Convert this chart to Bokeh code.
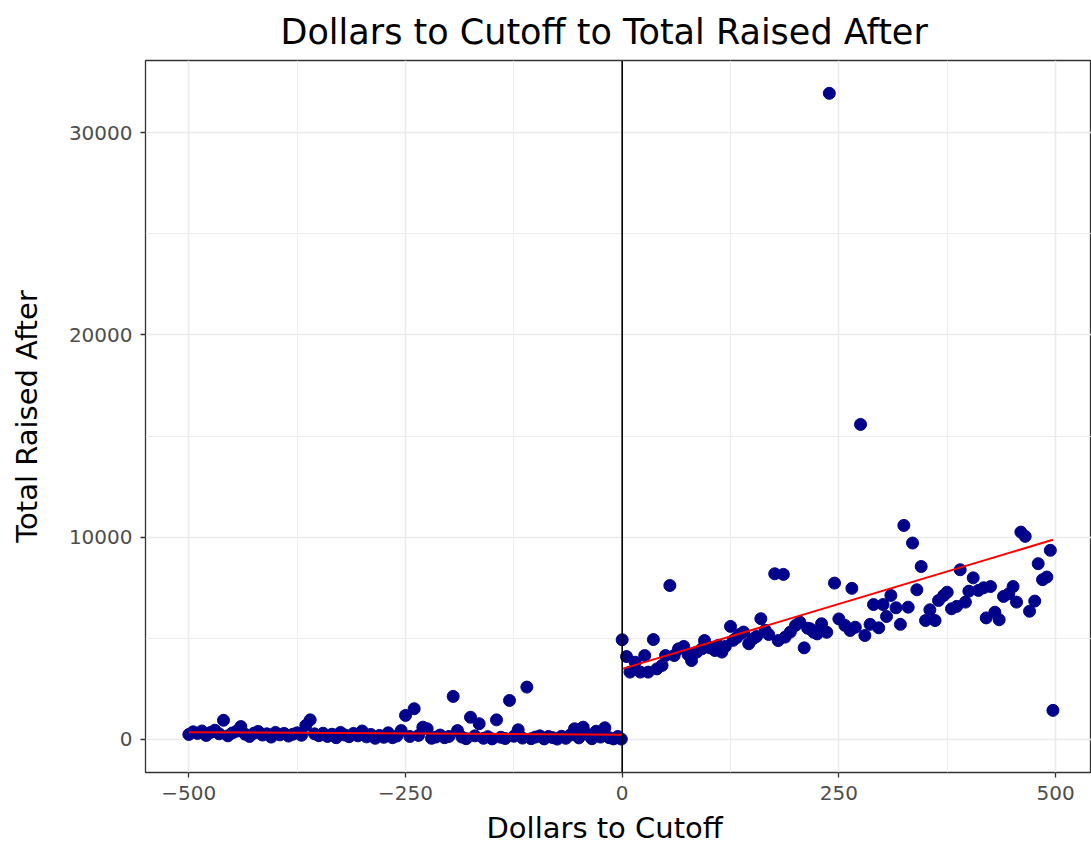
import numpy as np
from bokeh.plotting import figure
from bokeh.models import Range1d, FixedTicker, Span, Title, ColumnDataSource
from bokeh.embed import file_html
from bokeh.resources import INLINE

# Binned donations: dollars relative to the cutoff vs. total raised afterwards
left_x = [-500, -495, -490, -485, -480, -475, -470, -465, -460, -455,
          -450, -445, -440, -435, -430, -425, -420, -415, -410, -405,
          -400, -395, -390, -385, -380, -375, -370, -365, -360, -355,
          -350, -345, -340, -335, -330, -325, -320, -315, -310, -305,
          -300, -295, -290, -285, -280, -275, -270, -265, -260, -255,
          -250, -245, -240, -235, -230, -225, -220, -215, -210, -205,
          -200, -195, -190, -185, -180, -175, -170, -165, -160, -155,
          -150, -145, -140, -135, -130, -125, -120, -115, -110, -105,
          -100, -95, -90, -85, -80, -75, -70, -65, -60, -55,
          -50, -45, -40, -35, -30, -25, -20, -15, -10, -5, -1]
left_y = [250, 380, 300, 420, 200, 350, 460, 280, 950, 180,
          320, 410, 640, 260, 150, 310, 400, 220, 280, 120,
          350, 230, 300, 170, 260, 330, 210, 700, 970, 280,
          190, 310, 150, 260, 90, 350, 220, 140, 300, 180,
          420, 130, 250, 60, 200, 110, 330, 90, 170, 440,
          1190, 150, 1520, 200, 610, 530, 60, 120, 220, 90,
          150, 2130, 440, 120, 40, 1100, 180, 780, 60, 140,
          30, 970, 110, 50, 1930, 160, 480, 70, 2590, 40,
          120, 180, 30, 150, 90, 20, 160, 60, 220, 530,
          80, 610, 250, 40, 410, 120, 580, 90, 30, 150, 20]

right_x = [0, 5, 9, 15, 21, 26, 30, 36, 40, 46,
           50, 55, 60, 65, 71, 76, 80, 86, 92, 95,
           101, 107, 111, 115, 119, 125, 128, 132, 136, 140,
           146, 151, 155, 160, 165, 169, 176, 180, 186, 188,
           194, 200, 205, 210, 214, 217, 221, 225, 230, 236,
           239, 245, 250, 257, 263, 265, 269, 275, 280, 286,
           290, 296, 301, 305, 310, 316, 321, 325, 330, 335,
           340, 345, 350, 355, 361, 365, 371, 375, 380, 386,
           390, 396, 400, 405, 411, 417, 420, 425, 430, 435,
           440, 446, 451, 455, 460, 465, 470, 476, 480, 485,
           490, 494, 497]
right_y = [4930, 4100, 3330, 3820, 3330, 4150, 3330, 4940, 3490, 3660,
           4150, 7610, 4150, 4480, 4600, 4200, 3900, 4320, 4480, 4890,
           4530, 4400, 4650, 4320, 4600, 5590, 4900, 5030, 5200, 5310,
           4730, 4980, 5090, 5970, 5400, 5190, 8190, 4890, 8160, 5060,
           5310, 5640, 5800, 4530, 5500, 5470, 5300, 5220, 5720, 5300,
           31937, 7730, 5960, 5640, 5390, 7470, 5550, 15573, 5140, 5690,
           6670, 5520, 6670, 6080, 7120, 6510, 5690, 10580, 6540, 9710,
           7400, 8550, 5880, 6410, 5880, 6870, 7120, 7280, 6460, 6580,
           8390, 6790, 7330, 7990, 7370, 7500, 6010, 7560, 6290, 5920,
           7070, 7200, 7560, 6790, 10250, 10040, 6340, 6840, 8690, 7900,
           8030, 9350, 1440]

# fitted regression lines on either side of the cutoff (endpoints)
fit_left_x = [-500, 0]
fit_left_y = [360, 240]
fit_right_x = [0, 497]
fit_right_y = [3490, 9870]

x_ticks = [-500, -250, 0, 250, 500]
x_minor = [-375, -125, 125, 375]
y_ticks = [0, 10000, 20000, 30000]
y_minor = [5000, 15000, 25000]

TEXT_FONT = "DejaVu Sans"
GRID = "#EBEBEB"

p = figure(width=1091, height=850, output_backend="svg", toolbar_location=None,
           x_range=Range1d(-550, 541.5), y_range=Range1d(-1631, 33559),
           min_border_left=145, min_border_right=0, min_border_top=60,
           min_border_bottom=78)

p.title = Title(text="Dollars to Cutoff to Total Raised After", align="left",
                text_font=TEXT_FONT, text_font_size="35px", text_font_style="normal",
                text_color="black", offset=135, standoff=18)

p.background_fill_color = "white"
p.border_fill_color = "white"
p.outline_line_color = "#333333"
p.outline_line_width = 1.3

# axes
for ax in (p.xaxis[0], p.yaxis[0]):
    ax.axis_line_color = None
    ax.major_tick_line_color = "#333333"
    ax.major_tick_line_width = 1.3
    ax.major_tick_in = 0
    ax.major_tick_out = 5
    ax.minor_tick_line_color = None
    ax.major_label_text_font = TEXT_FONT
    ax.major_label_text_font_size = "20px"
    ax.major_label_text_color = "#4D4D4D"
    ax.axis_label_text_font = TEXT_FONT
    ax.axis_label_text_font_size = "29px"
    ax.axis_label_text_font_style = "normal"
    ax.axis_label_text_color = "black"

p.xaxis.ticker = FixedTicker(ticks=x_ticks, minor_ticks=x_minor)
p.yaxis.ticker = FixedTicker(ticks=y_ticks, minor_ticks=y_minor)
p.xaxis.major_label_overrides = {t: (f"\u2212{abs(t)}" if t < 0 else str(t)) for t in x_ticks}
p.yaxis.major_label_overrides = {t: str(t) for t in y_ticks}
p.yaxis.axis_label = "Total Raised After"
p.xaxis.major_label_standoff = 8
p.yaxis.major_label_standoff = 8
p.yaxis.axis_label_standoff = 22

# x-axis title, placed under the tick labels
p.add_layout(Title(text="Dollars to Cutoff", align="left", offset=341,
                   text_font=TEXT_FONT, text_font_size="29px",
                   text_font_style="normal", text_color="black", standoff=12),
             "below")

for g in (p.xgrid[0], p.ygrid[0]):
    g.grid_line_color = GRID
    g.grid_line_width = 1.6
    g.minor_grid_line_color = GRID
    g.minor_grid_line_width = 0.9

# cutoff line
p.add_layout(Span(location=0, dimension="height", line_color="black", line_width=1.6))

# points
src = ColumnDataSource(dict(x=left_x + right_x, y=left_y + right_y))
p.scatter("x", "y", source=src, size=12, fill_color="#00008B", line_color="#00008B")

# regression lines
p.line(fit_left_x, fit_left_y, line_color="red", line_width=2)
p.line(fit_right_x, fit_right_y, line_color="red", line_width=2)

open("out.html", "w").write(file_html(p, INLINE))
